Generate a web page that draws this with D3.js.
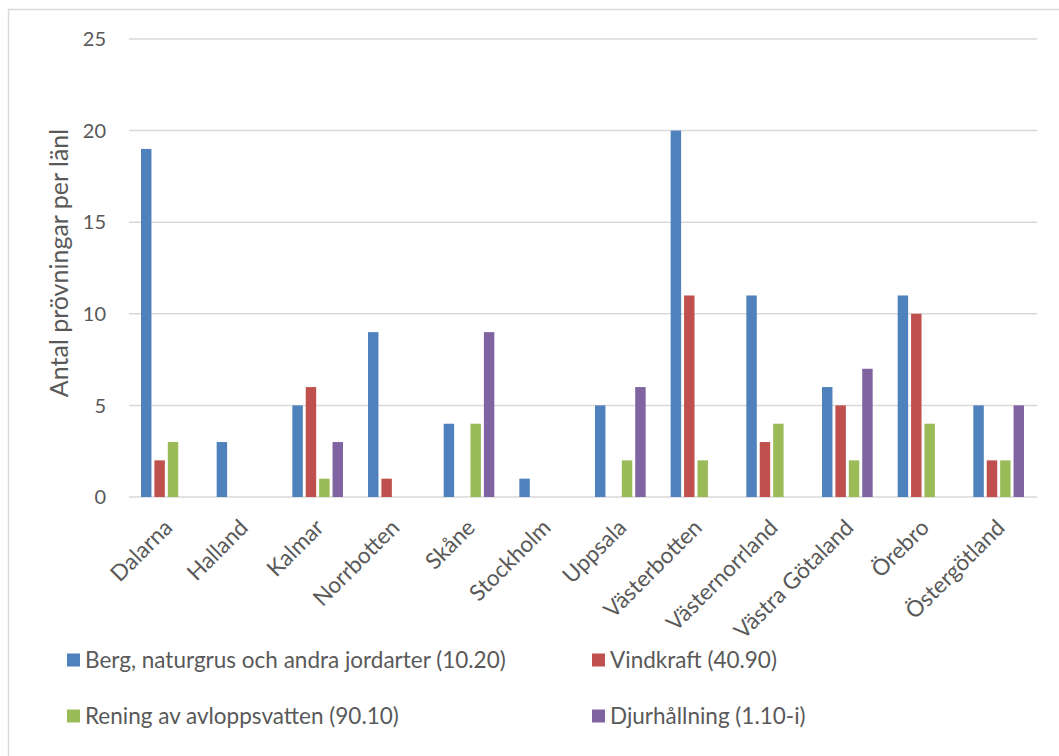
<!DOCTYPE html>
<html>
<head>
<meta charset="utf-8">
<script src="https://cdn.jsdelivr.net/npm/d3@7"></script>
<style>
  html, body { margin: 0; padding: 0; background: #fff; }
  svg { display: block; }
  text { font-family: Lato, "Open Sans", sans-serif; fill: #595959; }
</style>
</head>
<body>
<svg id="chart" width="1059" height="756"></svg>
<script>
const categories = ["Dalarna", "Halland", "Kalmar", "Norrbotten", "Skåne", "Stockholm", "Uppsala", "Västerbotten", "Västernorrland", "Västra Götaland", "Örebro", "Östergötland"];
const seriesNames = ["Berg, naturgrus och andra jordarter (10.20)", "Vindkraft (40.90)", "Rening av avloppsvatten (90.10)", "Djurhållning (1.10-i)"];
const berg     = [19, 3, 5, 9, 4, 1, 5, 20, 11, 6, 11, 5];
const vindkraft = [2, 0, 6, 1, 0, 0, 0, 11, 3, 5, 10, 2];
const rening   = [3, 0, 1, 0, 4, 0, 2, 2, 4, 2, 4, 2];
const djur     = [0, 0, 3, 0, 9, 0, 6, 0, 0, 7, 0, 5];
const yTicks = [0, 5, 10, 15, 20, 25];
const yTitle = "Antal prövningar per länl";
const colors = ["#4F81BD", "#C0504D", "#9BBB59", "#8064A2"];

const seriesValues = [berg, vindkraft, rening, djur];
const data = categories.map((c, i) => ({ cat: c, vals: seriesValues.map(s => s[i]) }));

const svg = d3.select("#chart");

// outer chart border
svg.append("rect").attr("x", 8.5).attr("y", 9.5).attr("width", 1200).attr("height", 900)
  .attr("fill", "none").attr("stroke", "#d9d9d9").attr("stroke-width", 1.5);

const pLeft = 129, pRight = 1037, pTop = 39, pBottom = 497;
const x0 = d3.scaleBand().domain(categories).range([pLeft, pRight]).paddingInner(0).paddingOuter(0);
const catW = x0.bandwidth();
const x1 = d3.scaleBand().domain(d3.range(4)).range([12, catW - 13]).paddingInner(0.22).paddingOuter(0);
const y = d3.scaleLinear().domain([0, 25]).range([pBottom, pTop]);

// gridlines
svg.append("g").selectAll("line").data(yTicks).join("line")
  .attr("x1", pLeft).attr("x2", pRight)
  .attr("y1", d => y(d)).attr("y2", d => y(d))
  .attr("stroke", "#d9d9d9").attr("stroke-width", 1.5);

// y tick labels
svg.append("g").selectAll("text").data(yTicks).join("text")
  .attr("x", 106).attr("y", d => y(d)).attr("dy", "0.36em")
  .attr("text-anchor", "end").attr("font-size", 20).text(d => d);

// y title
svg.append("text").attr("transform", "translate(68,263) rotate(-90)")
  .attr("text-anchor", "middle").attr("font-size", 25).text(yTitle);

// bars
const groups = svg.append("g").selectAll("g").data(data).join("g")
  .attr("transform", d => `translate(${x0(d.cat)},0)`);
groups.selectAll("rect").data(d => d.vals.map((v, i) => ({ v, i })).filter(e => e.v > 0)).join("rect")
  .attr("x", e => x1(e.i)).attr("width", x1.bandwidth())
  .attr("y", e => y(e.v)).attr("height", e => pBottom - y(e.v))
  .attr("fill", e => colors[e.i]);

// x labels
svg.append("g").selectAll("text").data(categories).join("text")
  .attr("transform", d => `translate(${x0(d) + catW / 2 + 7},${529}) rotate(-45)`)
  .attr("text-anchor", "end").attr("font-size", 22.5).text(d => d);

// legend
const legPos = [[67, 660], [592, 660], [67, 716], [592, 716]];
const leg = svg.append("g").selectAll("g").data(seriesNames).join("g")
  .attr("transform", (d, i) => `translate(${legPos[i][0]},${legPos[i][1]})`);
leg.append("rect").attr("x", 0).attr("y", -6.5).attr("width", 13).attr("height", 13)
  .attr("fill", (d, i) => colors[i]);
leg.append("text").attr("x", 18).attr("y", 0).attr("dy", "0.36em")
  .attr("font-size", 22.5).text(d => d);
</script>
</body>
</html>
